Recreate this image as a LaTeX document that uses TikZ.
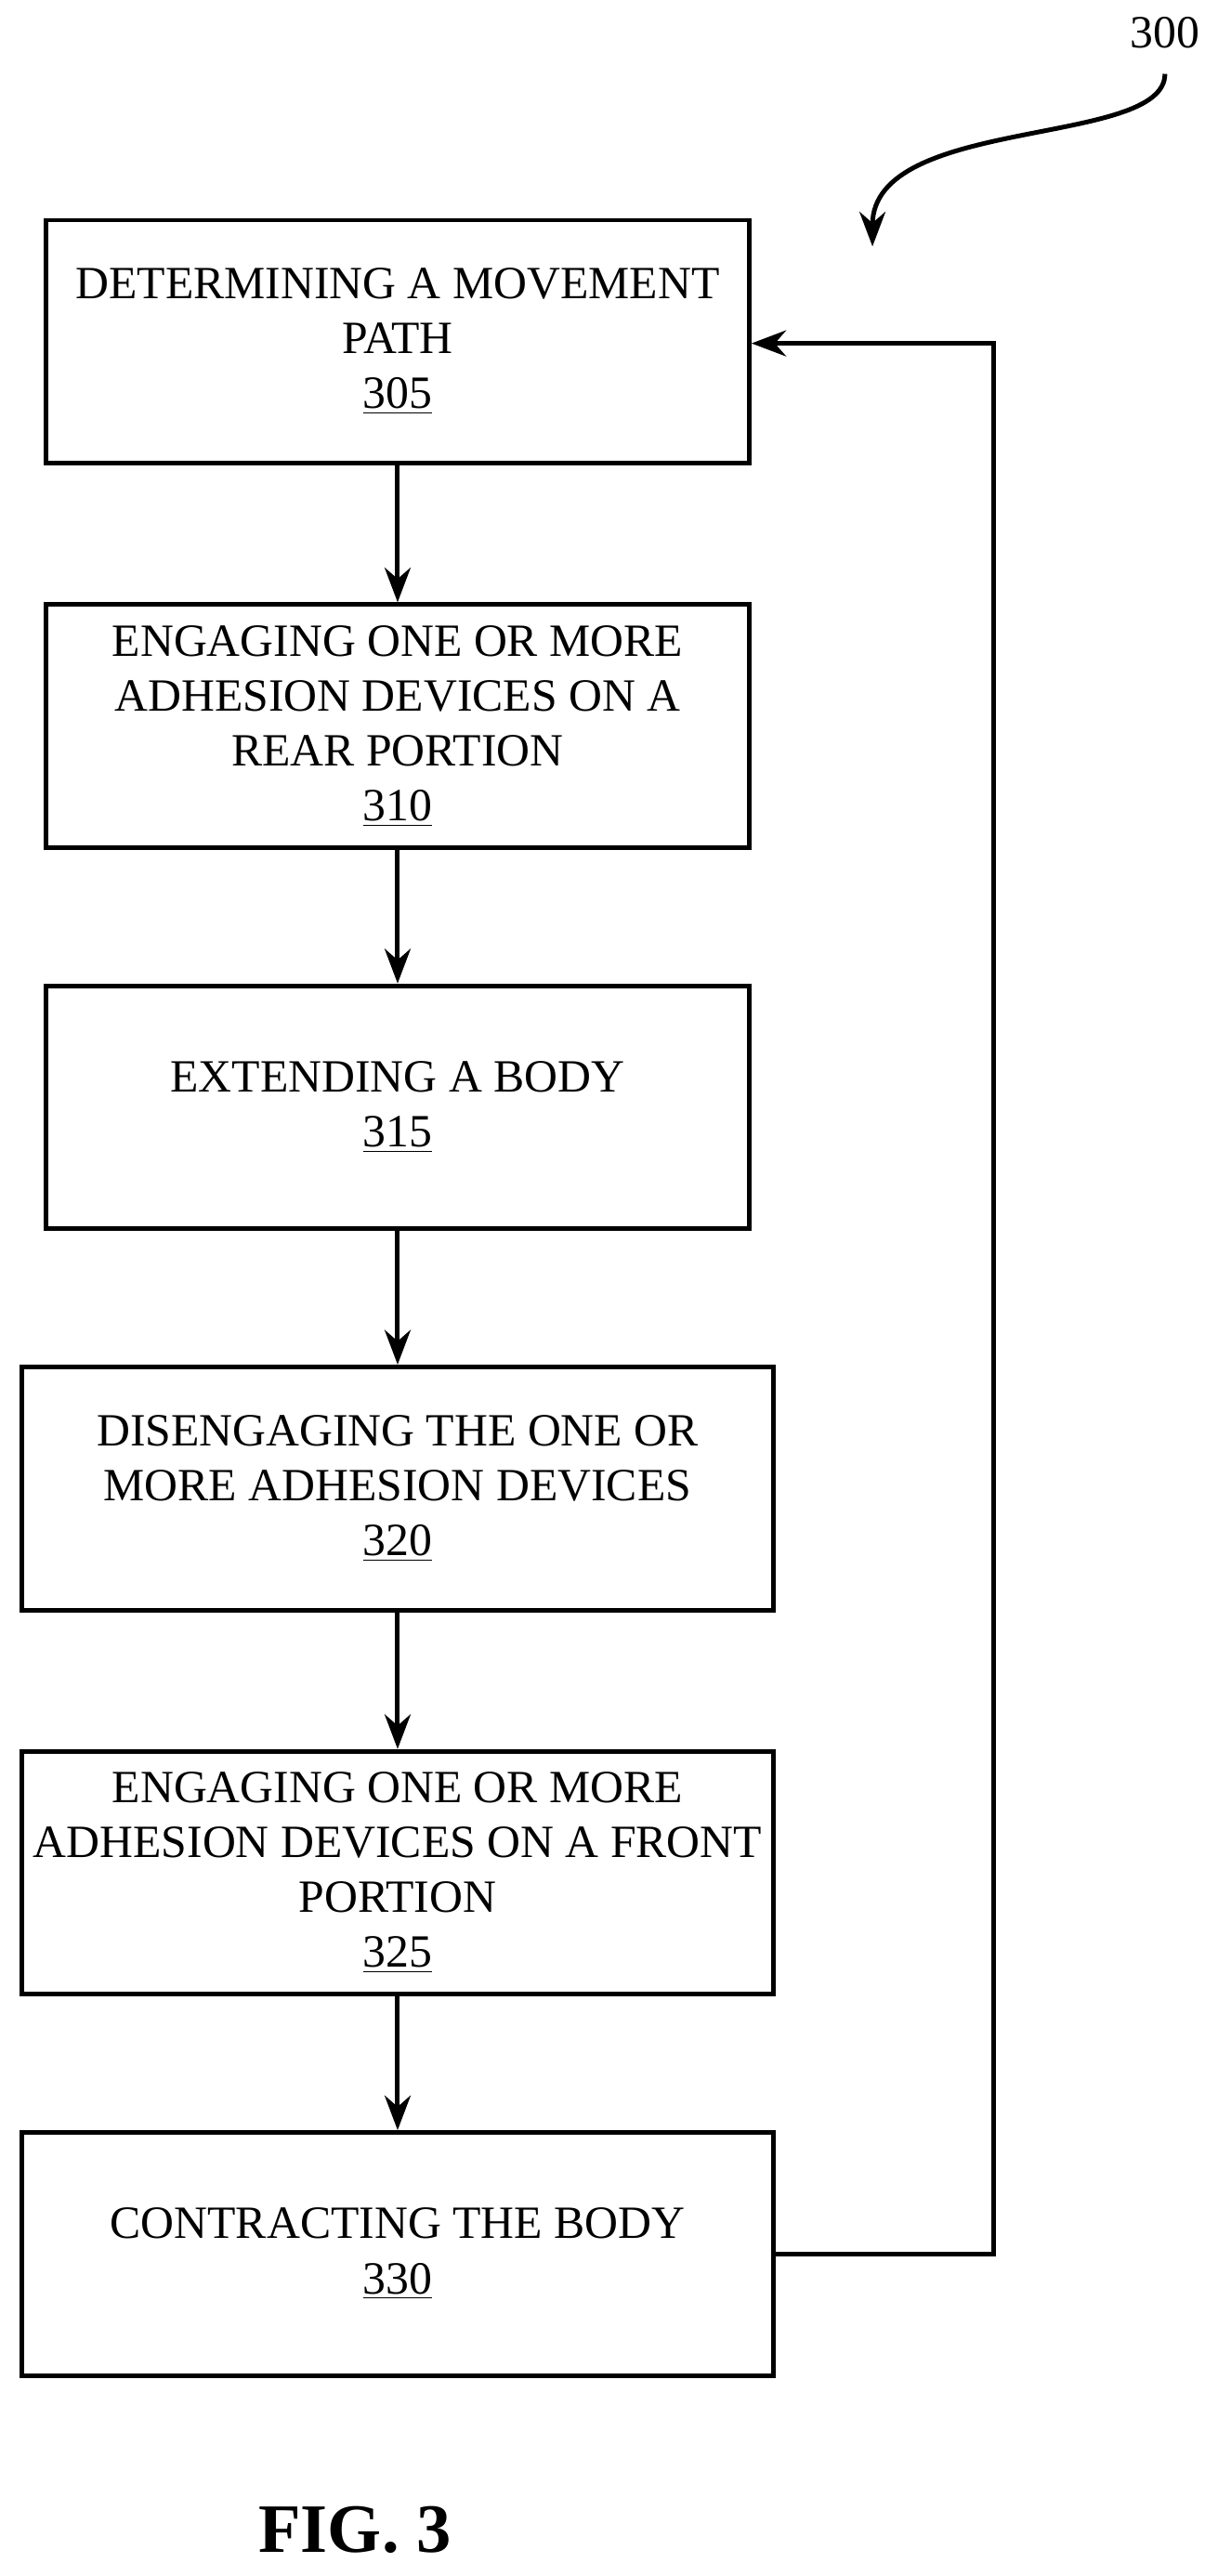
\documentclass[tikz,border=0pt]{standalone}
\usepackage{fontspec}
\setmainfont{Liberation Serif}
\usetikzlibrary{arrows.meta}
\begin{document}
\begin{tikzpicture}[x=0.02cm,y=-0.02cm,
    stepbox/.style={draw,line width=1.6pt,align=center,minimum height=2.96cm,font=\fontsize{16}{19}\selectfont},
    narrow/.style={stepbox,minimum width=8.56cm},
    wide/.style={stepbox,minimum width=9.16cm},
    flow/.style={line width=1.6pt,-{Stealth[length=12pt,width=9pt]}}]
    \useasboundingbox (0,0) rectangle (741,1568);

    \node[narrow] (s305) at (242,208) {DETERMINING A MOVEMENT\\PATH\\\underline{305}};
    \node[narrow] (s310) at (242,442) {ENGAGING ONE OR MORE\\ADHESION DEVICES ON A\\REAR PORTION\\\underline{310}};
    \node[narrow] (s315) at (242,674) {EXTENDING A BODY\\\underline{315}};
    \node[wide] (s320) at (242,906) {DISENGAGING THE ONE OR\\MORE ADHESION DEVICES\\\underline{320}};
    \node[wide] (s325) at (242,1140) {ENGAGING ONE OR MORE\\ADHESION DEVICES ON A FRONT\\PORTION\\\underline{325}};
    \node[wide] (s330) at (242,1372) {CONTRACTING THE BODY\\\underline{330}};

    \draw[flow] (s305) -- (s310);
    \draw[flow] (s310) -- (s315);
    \draw[flow] (s315) -- (s320);
    \draw[flow] (s320) -- (s325);
    \draw[flow] (s325) -- (s330);
    \draw[flow] (s330.east) -- (605,1372) -- (605,209) -- (s305.east |- 0,209);

    % figure reference
    \node[font=\fontsize{16}{19}\selectfont] (ref) at (709,20) {300};
    \coordinate (tip) at (531,150);
    \draw[line width=1.6pt,-{Stealth[length=12pt,width=9pt]}] (709,45) .. controls (709,90) and (531,70) .. (tip);

    \node[font=\bfseries\fontsize{24}{28}\selectfont] (fig) at (216,1540) {FIG. 3};
\end{tikzpicture}
\end{document}
